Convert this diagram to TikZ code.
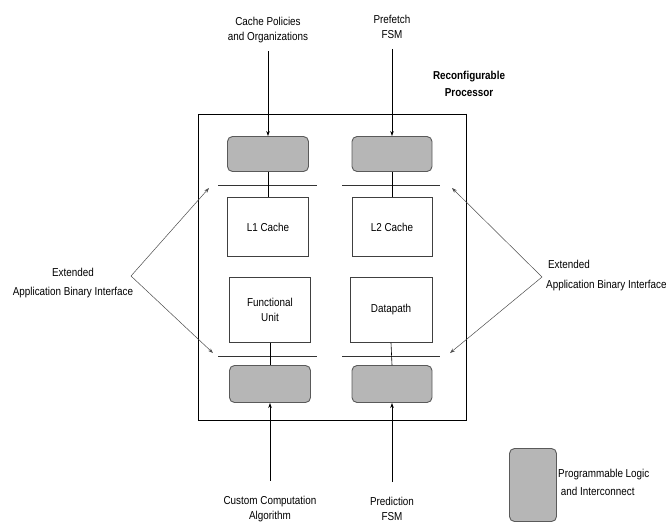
\documentclass[tikz,border=0pt]{standalone}
\usepackage{fontspec}
\setmainfont[FakeStretch=0.86]{Liberation Sans}
\usetikzlibrary{arrows.meta}

\definecolor{plgray}{RGB}{182,182,182}
\definecolor{pledge}{RGB}{90,90,90}

\tikzset{
  plogic/.style={draw=pledge, fill=plgray, rounded corners=5pt, line width=0.9pt},
  unitbox/.style={draw=black!75, line width=0.7pt, align=center},
  lbl/.style={align=center, font=\fontsize{11.5}{15}\selectfont, inner sep=1pt},
  feed/.style={-{Stealth[length=5pt,width=3.5pt]}, line width=0.6pt},
  abi/.style={-{Stealth[length=5pt,width=3.5pt]}, line width=0.5pt, draw=black!70},
  bus/.style={line width=0.8pt, draw=black!80}
}

\begin{document}
\begin{tikzpicture}[x=1pt, y=-1pt]
\useasboundingbox (0,0) rectangle (672,525);

% Processor frame
\node[draw, line width=0.7pt, minimum width=268pt, minimum height=306pt, inner sep=0pt] (proc) at (332,267) {};
\draw[line width=1.6pt] (proc.north east) -- (proc.south east) -- (proc.south west);
\node[lbl, font=\bfseries\fontsize{11.5}{17}\selectfont] (proclbl) at (469,84) {Reconfigurable\\Processor};

% Programmable logic blocks
\node[plogic, minimum width=81pt, minimum height=35pt] (plA) at (268,154) {};
\node[plogic, minimum width=80pt, minimum height=35pt] (plB) at (392,154) {};
\node[plogic, minimum width=81pt, minimum height=37pt] (plC) at (270,384) {};
\node[plogic, minimum width=80pt, minimum height=37pt] (plD) at (392,384) {};

% Core units
\node[unitbox, lbl, minimum width=81pt, minimum height=59pt] (lone) at (268,227) {L1 Cache};
\node[unitbox, lbl, minimum width=80pt, minimum height=59pt] (ltwo) at (392,227) {L2 Cache};
\node[unitbox, lbl, minimum width=81pt, minimum height=65pt] (func) at (270,310) {Functional\\Unit};
\node[unitbox, lbl, minimum width=82pt, minimum height=65pt] (dpath) at (391,310) {Datapath};

% Interface bus lines
\coordinate (busTLa) at (218,185);
\coordinate (busTLb) at (317,185);
\coordinate (busTRa) at (342,185);
\coordinate (busTRb) at (440,185);
\coordinate (busBLa) at (218,356);
\coordinate (busBLb) at (317,356);
\coordinate (busBRa) at (342,356);
\coordinate (busBRb) at (440,356);
\draw[bus] (busTLa) -- (busTLb);
\draw[bus] (busTRa) -- (busTRb);
\draw[bus] (busBLa) -- (busBLb);
\draw[bus] (busBRa) -- (busBRb);

% Links through the interface
\draw[line width=0.6pt] (plA.south) -- (lone.north);
\draw[line width=0.6pt] (plB.south) -- (ltwo.north);
\draw[line width=0.6pt] (func.south) -- (plC.north);
\draw[line width=0.6pt] (dpath.south) -- (plD.north);

% Inputs from outside
\node[lbl] (cachepol) at (268,30) {Cache Policies\\and Organizations};
\node[lbl] (prefetch) at (392,27) {Prefetch\\FSM};
\node[lbl] (custom) at (270,509) {Custom Computation\\Algorithm};
\node[lbl] (predict) at (392,509) {Prediction\\FSM};
\draw[feed] (cachepol.south) ++(0,7) coordinate (cpA) -- (plA.north);
\draw[feed] (prefetch.south) ++(0,9) coordinate (pfA) -- (plB.north);
\draw[feed] (custom.north) ++(0,-14) coordinate (ccA) -- (plC.south);
\draw[feed] (predict.north) ++(0,-14) coordinate (prA) -- (plD.south);

% Extended ABI labels and pointers
\node[lbl, font=\fontsize{11.5}{19}\selectfont] (abiL) at (73,283) {Extended\\Application Binary Interface};
\node[lbl, align=left, font=\fontsize{11.5}{20}\selectfont, anchor=west] (abiR) at (545,276) {\,Extended\\Application Binary Interface};
\coordinate (apexL) at (131,276);
\coordinate (apexR) at (542,277);
\coordinate (tipTL) at (209,188);
\coordinate (tipBL) at (213,353);
\coordinate (tipTR) at (452,188);
\coordinate (tipBR) at (450,353);
\draw[abi] (apexL) -- (tipTL);
\draw[abi] (apexL) -- (tipBL);
\draw[abi] (apexR) -- (tipTR);
\draw[abi] (apexR) -- (tipBR);

% Legend
\node[plogic, minimum width=47pt, minimum height=73pt] (legbox) at (533,485) {};
\node[lbl, align=left, anchor=west, font=\fontsize{11.5}{18}\selectfont] (leglbl) at ([yshift=3pt]legbox.east) {Programmable Logic\\\ and Interconnect};

\end{tikzpicture}
\end{document}
